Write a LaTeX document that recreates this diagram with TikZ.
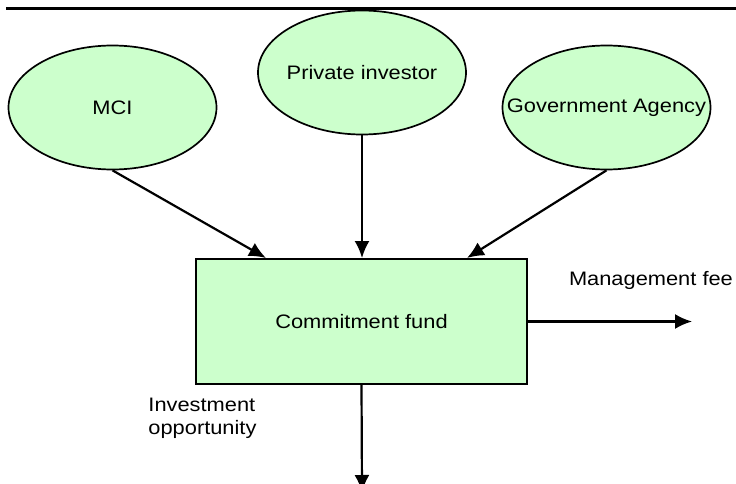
\documentclass[tikz,border=0pt]{standalone}
\usepackage{fontspec}
\setmainfont{Liberation Sans}[FakeStretch=1.12]
\usepackage{tikz}
\usetikzlibrary{arrows.meta,shapes.geometric,positioning,calc}
\usepackage{xcolor}
\definecolor{fillg}{HTML}{CCFFCC}

\begin{document}
\begin{tikzpicture}[x=1pt, y=-1pt, >={Latex[length=17pt,width=15pt]}, line width=2.2pt,
    font=\fontsize{19.5}{23}\selectfont]
\tikzstyle{investor}=[ellipse, draw=black, fill=fillg, line width=1.7pt, inner sep=0pt,
    minimum width=208pt, minimum height=124pt]
\tikzstyle{fundbox}=[rectangle, draw=black, fill=fillg, line width=2pt, inner sep=0pt,
    minimum width=331pt, minimum height=125pt]
\useasboundingbox (0,0) rectangle (736,484);
% rule under the heading
\draw[line width=2.6pt] (6,8.5) -- (736,8.5);
% labels kept in zero-width boxes so the ellipses keep their size
\node[investor] (MCI)  at (112.5,107.5) {\makebox[0pt]{MCI}};
\node[investor] (PI)   at (362,72.5)    {\makebox[0pt]{Private investor}};
\node[investor] (GOV)  at (606.5,107.5) {\makebox[0pt]{Government Agency}};
\node[fundbox]  (fund) at (361.5,321.5) {Commitment fund};
\coordinate (feeend) at (692,321.5);
\coordinate (oppend) at (362,492);
\node[anchor=east, inner sep=1pt] (fee) at (735,280) {Management fee};
\node[anchor=west, align=left] (opp) at (144,418) {Investment\\opportunity};
\draw[->]
(MCI.south) -- ([xshift=71pt]fund.north west);
\draw[->]
(PI.south) -- (PI.south |- fund.north);
\draw[->]
(GOV.south) -- ([xshift=-61pt]fund.north east);
\draw[->] (fund.east) -- (feeend);
\draw[->] (fund.south) -- (oppend);
\end{tikzpicture}
\end{document}
